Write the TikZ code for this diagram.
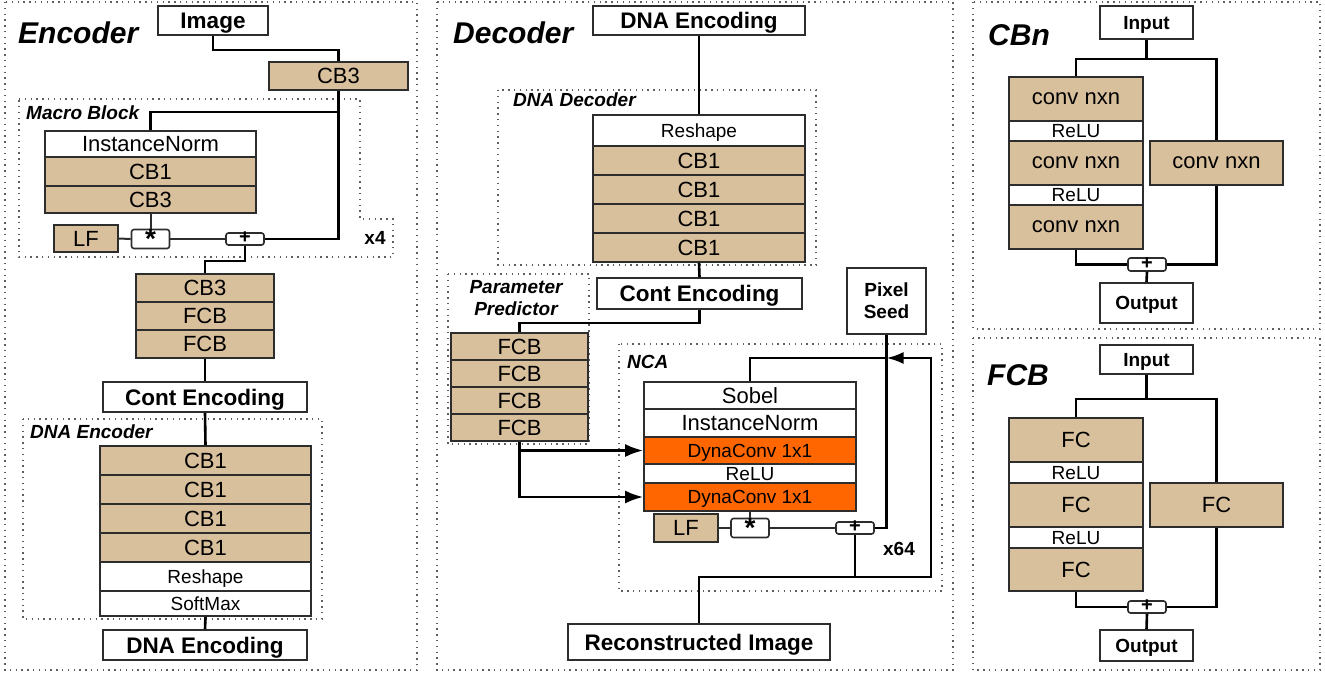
\documentclass[tikz,border=0pt]{standalone}
\usepackage{fontspec}
\setmainfont{Liberation Sans}
\usetikzlibrary{arrows.meta}
\definecolor{tanbox}{RGB}{217,192,156}
\definecolor{dynaorange}{RGB}{255,102,0}
\definecolor{edgegray}{RGB}{45,45,45}
\definecolor{dotgray}{RGB}{95,95,95}
\newcommand{\fsz}[2]{\fontsize{#1}{#2}\selectfont}

\begin{document}
\begin{tikzpicture}[x=1pt,y=-1pt,
    edge/.style={draw=edgegray,line width=1.6pt,inner sep=0pt,text depth=0pt},
    wh/.style 2 args={minimum width=#1pt,minimum height=#2pt},
    layer/.style={edge,fill=tanbox,font=\fsz{22}{26},text height=15.8pt},
    whitebox/.style={edge,fill=white,font=\fsz{22}{26},text height=15.8pt},
    dyna/.style={edge,fill=dynaorange,font=\fsz{19}{22},text height=13.7pt},
    small/.style={font=\fsz{19}{22},text height=13.7pt},
    xh/.style={text height=11.6pt},
    port/.style={edge,fill=white,font=\fsz{22.5}{26}\bfseries,text height=16.2pt},
    io/.style={edge,fill=white,font=\fsz{19}{22}\bfseries,text height=13.7pt},
    op/.style={draw=edgegray,line width=1.6pt,inner sep=0pt,fill=white,rounded corners=2.5pt,minimum width=38pt,minimum height=12pt,font=\fsz{20}{22}\bfseries,text height=9pt,text depth=-9pt},
    star/.style={font=\fsz{28}{30}\bfseries,text height=19pt,text depth=-19pt},
    title/.style={anchor=west,inner sep=0pt,text height=21.6pt,text depth=0pt,font=\fsz{30}{34}\bfseries\itshape},
    grptitle/.style={anchor=west,inner sep=0pt,text height=13.7pt,text depth=0pt,font=\fsz{19}{22}\bfseries\itshape},
    rep/.style={inner sep=0pt,text height=13.7pt,text depth=0pt,font=\fsz{19}{22}\bfseries},
    frame/.style={draw=dotgray,line width=1.4pt,dash pattern=on 1.4pt off 4.4pt},
    wire/.style={line width=2.6pt},
    thinwire/.style={line width=2pt,draw=edgegray}]
    \useasboundingbox (0,0) rectangle (1325,672);

    % panels
    \draw[frame] (5,2) rectangle (417,670);
    \draw[frame] (437,2) rectangle (953,670);
    \draw[frame] (973,2) rectangle (1320,329);
    \draw[frame] (973,338) rectangle (1320,670);

    % encoder
    \node[title] (enctitle) at (18,33) {Encoder};
    \node[port,wh={110}{29}] (img) at (213,20.5) {Image};
    \node[layer,wh={139}{28}] (cbtop) at (338.5,76) {CB3};
    \draw[frame] (19,99) -- (360,99) -- (360,219) -- (393,219) -- (393,257) -- (19,257) -- cycle;
    \node[grptitle] (macrotitle) at (26,113) {Macro Block};
    \node[whitebox,wh={211}{26}] (inorma) at (150.5,144) {InstanceNorm};
    \node[layer,wh={211}{29}] (cbm1) at (150.5,171.5) {CB1};
    \node[layer,wh={211}{27}] (cbm3) at (150.5,199.5) {CB3};
    \node[layer,wh={64}{27}] (lfa) at (86,238.5) {LF};
    \node[op,star] (mula) at (150.5,239) {*};
    \node[op] (adda) at (245,239) {+};
    \node[rep] (xfour) at (375,238) {x4};
    \node[layer,wh={138}{28}] (cbe3) at (205,288) {CB3};
    \node[layer,wh={138}{28}] (fcbe1) at (205,316) {FCB};
    \node[layer,wh={138}{28}] (fcbe2) at (205,344) {FCB};
    \node[port,wh={204}{30}] (conta) at (205,397) {Cont Encoding};
    \draw[frame] (23,419) rectangle (322,619);
    \node[grptitle] (dnaenctitle) at (30,432) {DNA Encoder};
    \node[layer,wh={211}{29}] (cbe11) at (205.5,460.5) {CB1};
    \node[layer,wh={211}{29}] (cbe12) at (205.5,489.5) {CB1};
    \node[layer,wh={211}{29}] (cbe13) at (205.5,518.5) {CB1};
    \node[layer,wh={211}{29}] (cbe14) at (205.5,547.5) {CB1};
    \node[whitebox,small,wh={211}{29}] (reshapea) at (205.5,576.5) {Reshape};
    \node[whitebox,small,wh={211}{25}] (softmax) at (205.5,603.5) {SoftMax};
    \node[port,wh={204}{30}] (dnaa) at (205,645) {DNA Encoding};

    \draw[wire] (img.south) -- ++(0,14) -| (cbtop.north);
    \draw[wire] (cbtop.south) -- ++(0,21) -| (inorma.north);
    \draw[wire] (cbtop.south) |- (adda.east);
    \draw[thinwire] (cbm3.south) -- (mula.north);
    \draw[thinwire] (lfa.east) -- (mula.west);
    \draw[thinwire] (mula.east) -- (adda.west);
    \draw[wire] (adda.south) -- ++(0,15) -| (cbe3.north);
    \draw[wire] (fcbe2.south) -- (conta.north);
    \draw[wire] (conta.south) -- (cbe11.north);
    \draw[wire] (softmax.south) -- (dnaa.north);

    % decoder
    \node[title] (dectitle) at (453,33) {Decoder};
    \node[port,wh={212}{29}] (dnab) at (699,20.5) {DNA Encoding};
    \draw[frame] (498,90) rectangle (816,265);
    \node[grptitle] (dnadectitle) at (513,100) {DNA Decoder};
    \node[whitebox,small,wh={212}{31}] (reshapeb) at (699,130.5) {Reshape};
    \node[layer,wh={212}{29}] (cbd1) at (699,160.5) {CB1};
    \node[layer,wh={212}{29}] (cbd2) at (699,189.5) {CB1};
    \node[layer,wh={212}{29}] (cbd3) at (699,218.5) {CB1};
    \node[layer,wh={212}{29}] (cbd4) at (699,247.5) {CB1};
    \node[port,wh={205}{31}] (contb) at (699.5,293.5) {Cont Encoding};
    \draw[frame] (448,274) rectangle (589,444);
    \node[anchor=center,align=center,inner sep=0pt,font=\fsz{19}{22}\bfseries\itshape] (pptitle) at (516,298) {Parameter\\Predictor};
    \node[layer,wh={137}{27}] (fcbd1) at (519.5,346.5) {FCB};
    \node[layer,wh={137}{27}] (fcbd2) at (519.5,373.5) {FCB};
    \node[layer,wh={137}{27}] (fcbd3) at (519.5,400.5) {FCB};
    \node[layer,wh={137}{27}] (fcbd4) at (519.5,427.5) {FCB};
    \node[draw=edgegray,line width=1.6pt,inner sep=0pt,fill=white,align=center,font=\fsz{19}{22}\bfseries,wh={79}{66}] (seed) at (886.5,301) {Pixel\\[0pt]Seed};
    \draw[frame] (619,344) rectangle (942,591);
    \node[grptitle] (ncatitle) at (627,362) {NCA};
    \node[whitebox,wh={212}{27}] (sobel) at (750,395.5) {Sobel};
    \node[whitebox,wh={212}{28}] (inormb) at (750,423) {InstanceNorm};
    \node[dyna,wh={212}{27}] (dyna1) at (750,450.5) {DynaConv 1x1};
    \node[whitebox,small,wh={212}{19}] (relub) at (750,473.5) {ReLU};
    \node[dyna,wh={212}{28}] (dyna2) at (750,497) {DynaConv 1x1};
    \node[layer,wh={64}{28}] (lfb) at (686,528) {LF};
    \node[op,star] (mulb) at (750,528) {*};
    \node[op] (addb) at (855,528) {+};
    \node[rep] (xsixtyfour) at (899,549) {x64};
    \node[port,wh={262}{36}] (recon) at (699,642) {Reconstructed Image};
    \coordinate (loopr) at (931,577);
    \coordinate (loopt) at (931,358);

    \draw[wire] (dnab.south) -- (reshapeb.north);
    \draw[wire] (cbd4.south) -- (contb.north);
    \draw[wire] (contb.south) -- ++(0,13) -| (fcbd1.north);
    \draw[wire,-{Latex[length=18pt,width=13pt]}] (fcbd4.south) |- (dyna1.west);
    \draw[wire,-{Latex[length=18pt,width=13pt]}] (fcbd4.south) |- (dyna2.west);
    \draw[thinwire] (dyna2.south) -- (mulb.north);
    \draw[thinwire] (lfb.east) -- (mulb.west);
    \draw[thinwire] (mulb.east) -- (addb.west);
    \draw[wire] (seed.south) |- (addb.east);
    \draw[wire] (addb.south) -- (addb.south |- loopr);
    \draw[wire,-{Latex[length=17pt,width=12pt]}] (recon.north) |- (loopr) -- (loopt) -- (seed.south |- loopt);
    \draw[wire] (seed.south |- loopt) -| (sobel.north);

    % CBn
    \node[title] (cbntitle) at (988,35) {CBn};
    \node[io,wh={93}{33}] (inpa) at (1146.5,22.5) {Input};
    \node[layer,xh,wh={134}{44}] (conva1) at (1076,99) {conv nxn};
    \node[whitebox,small,wh={134}{20}] (relua1) at (1076,131) {ReLU};
    \node[layer,xh,wh={134}{44}] (conva2) at (1076,163) {conv nxn};
    \node[whitebox,small,wh={134}{20}] (relua2) at (1076,195) {ReLU};
    \node[layer,xh,wh={134}{44}] (conva3) at (1076,227) {conv nxn};
    \node[layer,xh,wh={133}{44}] (convr) at (1216.5,163) {conv nxn};
    \node[op,minimum height=13pt] (addc) at (1147,264.5) {+};
    \node[io,wh={93}{40}] (outa) at (1146.5,303) {Output};

    \draw[wire] (inpa.south) -- ++(0,19) -| (conva1.north);
    \draw[wire] (inpa.south) -- ++(0,19) -| (convr.north);
    \draw[wire] (conva3.south) |- (addc.west);
    \draw[wire] (convr.south) |- (addc.east);
    \draw[wire] (addc.south) -- (outa.north);

    % FCB
    \node[title] (fcbtitle) at (987,375) {FCB};
    \node[io,wh={93}{29}] (inpb) at (1146.5,359.5) {Input};
    \node[layer,wh={134}{44}] (fca1) at (1076,440) {FC};
    \node[whitebox,small,wh={134}{21}] (relud1) at (1076,472.5) {ReLU};
    \node[layer,wh={134}{44}] (fca2) at (1076,505) {FC};
    \node[whitebox,small,wh={134}{21}] (relud2) at (1076,537.5) {ReLU};
    \node[layer,wh={134}{43}] (fca3) at (1076,569.5) {FC};
    \node[layer,wh={133}{44}] (fcr) at (1216.5,505) {FC};
    \node[op] (addd) at (1147,607) {+};
    \node[io,wh={93}{31}] (outb) at (1146.5,645.5) {Output};

    \draw[wire] (inpb.south) -- ++(0,24) -| (fca1.north);
    \draw[wire] (inpb.south) -- ++(0,24) -| (fcr.north);
    \draw[wire] (fca3.south) |- (addd.west);
    \draw[wire] (fcr.south) |- (addd.east);
    \draw[wire] (addd.south) -- (outb.north);
\end{tikzpicture}
\end{document}
